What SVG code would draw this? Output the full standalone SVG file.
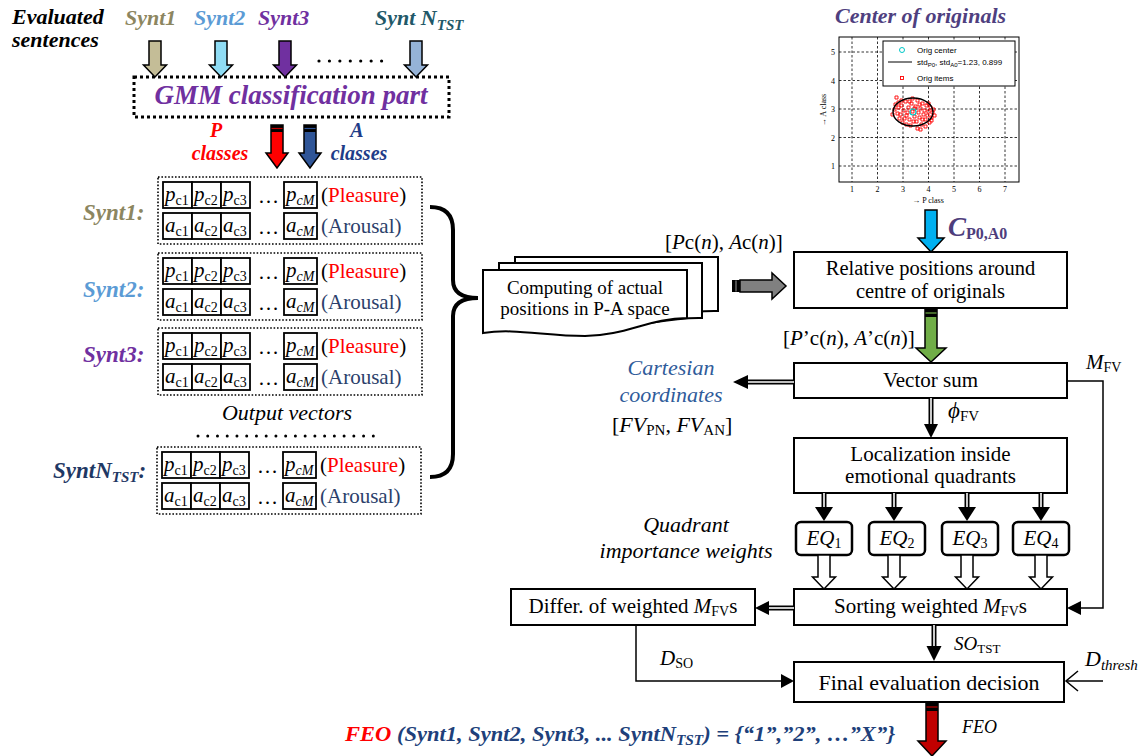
<svg xmlns="http://www.w3.org/2000/svg" width="1145" height="756" viewBox="0 0 1145 756">
<defs>
<style>
text{font-family:"Liberation Serif","Times New Roman",serif;}
.bi{font-weight:bold;font-style:italic;}
.it{font-style:italic;}
.up{font-style:normal;}
.box{fill:#fff;stroke:#000;stroke-width:2;}
.eq{fill:#fff;stroke:#000;stroke-width:2.5;}
.cell{fill:#fff;stroke:#000;stroke-width:1.8;}
.grp{fill:none;stroke:#000;stroke-width:1.6;stroke-dasharray:1.6 1.8;}
.ln{fill:none;stroke:#000;stroke-width:1.5;}
.dbl{stroke:#000;stroke-width:5;}
.dbw{stroke:#fff;stroke-width:1.6;}
.blk{stroke:#000;stroke-width:1.5;}
.grid{stroke:#000;stroke-width:0.8;stroke-dasharray:2.5 2;}
.sm{font-family:"Liberation Sans",Arial,sans-serif;font-size:8px;}
.pt{fill:none;stroke:#f00;stroke-width:0.9;}
.doc{fill:#fff;stroke:#000;stroke-width:2;}
</style>
</defs>
<rect width="1145" height="756" fill="#fff"/>

<g id="header">
<text x="12" y="24" class="bi" font-size="22">Evaluated</text>
<text x="12" y="47" class="bi" font-size="22">sentences</text>
</g>

<g id="inputs" class="bi" font-size="22">
<text x="125" y="25" fill="#8c8660">Synt1</text>
<text x="194" y="25" fill="#5b9bd5">Synt2</text>
<text x="258" y="25" fill="#7030a0">Synt3</text>
<text x="375" y="25" fill="#215868">Synt N<tspan font-size="15" dy="5">TST</tspan></text>
</g>

<g id="gmm">
<rect x="134" y="77" width="315" height="40" fill="none" stroke="#000" stroke-width="3" stroke-dasharray="3 3"/>
<text x="291" y="104" class="bi" font-size="27" fill="#7030a0" text-anchor="middle">GMM classification part</text>
</g>

<g id="pa-labels" class="bi" font-size="20" text-anchor="middle">
<text x="216" y="137" fill="#f00">P</text>
<text x="220" y="160" fill="#f00">classes</text>
<text x="357" y="137" fill="#1f3c88">A</text>
<text x="359" y="160" fill="#1f3c88">classes</text>
</g>

<g id="vec1">
<rect class="grp" x="158" y="177" width="264" height="67"/>
<rect class="cell" x="163" y="182" width="29" height="26"/><rect class="cell" x="192" y="182" width="29" height="26"/><rect class="cell" x="221" y="182" width="29" height="26"/><rect class="cell" x="284" y="182" width="33" height="26"/>
<rect class="cell" x="163" y="213" width="29" height="26"/><rect class="cell" x="192" y="213" width="29" height="26"/><rect class="cell" x="221" y="213" width="29" height="26"/><rect class="cell" x="284" y="213" width="33" height="26"/>
<g class="it" font-size="21">
<text x="165" y="201">p<tspan class="up" font-size="14" dy="4">c1</tspan></text>
<text x="194" y="201">p<tspan class="up" font-size="14" dy="4">c2</tspan></text>
<text x="223" y="201">p<tspan class="up" font-size="14" dy="4">c3</tspan></text>
<text x="286" y="201">p<tspan font-size="14" dy="4">cM</tspan></text>
<text x="165" y="232">a<tspan class="up" font-size="14" dy="4">c1</tspan></text>
<text x="194" y="232">a<tspan class="up" font-size="14" dy="4">c2</tspan></text>
<text x="223" y="232">a<tspan class="up" font-size="14" dy="4">c3</tspan></text>
<text x="286" y="232">a<tspan font-size="14" dy="4">cM</tspan></text>
</g>
<text x="258" y="203" font-size="21">…</text>
<text x="258" y="234" font-size="21">…</text>
<text x="321" y="202" font-size="21">(<tspan fill="#f00">Pleasure</tspan>)</text>
<text x="321" y="233" font-size="21" fill="#2b3f6b">(Arousal)</text>
</g>

<g id="vec2" transform="translate(0,76)">
<rect class="grp" x="158" y="177" width="264" height="67"/>
<rect class="cell" x="163" y="182" width="29" height="26"/><rect class="cell" x="192" y="182" width="29" height="26"/><rect class="cell" x="221" y="182" width="29" height="26"/><rect class="cell" x="284" y="182" width="33" height="26"/>
<rect class="cell" x="163" y="213" width="29" height="26"/><rect class="cell" x="192" y="213" width="29" height="26"/><rect class="cell" x="221" y="213" width="29" height="26"/><rect class="cell" x="284" y="213" width="33" height="26"/>
<g class="it" font-size="21">
<text x="165" y="201">p<tspan class="up" font-size="14" dy="4">c1</tspan></text>
<text x="194" y="201">p<tspan class="up" font-size="14" dy="4">c2</tspan></text>
<text x="223" y="201">p<tspan class="up" font-size="14" dy="4">c3</tspan></text>
<text x="286" y="201">p<tspan font-size="14" dy="4">cM</tspan></text>
<text x="165" y="232">a<tspan class="up" font-size="14" dy="4">c1</tspan></text>
<text x="194" y="232">a<tspan class="up" font-size="14" dy="4">c2</tspan></text>
<text x="223" y="232">a<tspan class="up" font-size="14" dy="4">c3</tspan></text>
<text x="286" y="232">a<tspan font-size="14" dy="4">cM</tspan></text>
</g>
<text x="258" y="203" font-size="21">…</text>
<text x="258" y="234" font-size="21">…</text>
<text x="321" y="202" font-size="21">(<tspan fill="#f00">Pleasure</tspan>)</text>
<text x="321" y="233" font-size="21" fill="#2b3f6b">(Arousal)</text>
</g>

<g id="vec3" transform="translate(0,151)">
<rect class="grp" x="158" y="177" width="264" height="67"/>
<rect class="cell" x="163" y="182" width="29" height="26"/><rect class="cell" x="192" y="182" width="29" height="26"/><rect class="cell" x="221" y="182" width="29" height="26"/><rect class="cell" x="284" y="182" width="33" height="26"/>
<rect class="cell" x="163" y="213" width="29" height="26"/><rect class="cell" x="192" y="213" width="29" height="26"/><rect class="cell" x="221" y="213" width="29" height="26"/><rect class="cell" x="284" y="213" width="33" height="26"/>
<g class="it" font-size="21">
<text x="165" y="201">p<tspan class="up" font-size="14" dy="4">c1</tspan></text>
<text x="194" y="201">p<tspan class="up" font-size="14" dy="4">c2</tspan></text>
<text x="223" y="201">p<tspan class="up" font-size="14" dy="4">c3</tspan></text>
<text x="286" y="201">p<tspan font-size="14" dy="4">cM</tspan></text>
<text x="165" y="232">a<tspan class="up" font-size="14" dy="4">c1</tspan></text>
<text x="194" y="232">a<tspan class="up" font-size="14" dy="4">c2</tspan></text>
<text x="223" y="232">a<tspan class="up" font-size="14" dy="4">c3</tspan></text>
<text x="286" y="232">a<tspan font-size="14" dy="4">cM</tspan></text>
</g>
<text x="258" y="203" font-size="21">…</text>
<text x="258" y="234" font-size="21">…</text>
<text x="321" y="202" font-size="21">(<tspan fill="#f00">Pleasure</tspan>)</text>
<text x="321" y="233" font-size="21" fill="#2b3f6b">(Arousal)</text>
</g>

<g id="vec4" transform="translate(-1,270)">
<rect class="grp" x="158" y="177" width="264" height="67"/>
<rect class="cell" x="163" y="182" width="29" height="26"/><rect class="cell" x="192" y="182" width="29" height="26"/><rect class="cell" x="221" y="182" width="29" height="26"/><rect class="cell" x="284" y="182" width="33" height="26"/>
<rect class="cell" x="163" y="213" width="29" height="26"/><rect class="cell" x="192" y="213" width="29" height="26"/><rect class="cell" x="221" y="213" width="29" height="26"/><rect class="cell" x="284" y="213" width="33" height="26"/>
<g class="it" font-size="21">
<text x="165" y="201">p<tspan class="up" font-size="14" dy="4">c1</tspan></text>
<text x="194" y="201">p<tspan class="up" font-size="14" dy="4">c2</tspan></text>
<text x="223" y="201">p<tspan class="up" font-size="14" dy="4">c3</tspan></text>
<text x="286" y="201">p<tspan font-size="14" dy="4">cM</tspan></text>
<text x="165" y="232">a<tspan class="up" font-size="14" dy="4">c1</tspan></text>
<text x="194" y="232">a<tspan class="up" font-size="14" dy="4">c2</tspan></text>
<text x="223" y="232">a<tspan class="up" font-size="14" dy="4">c3</tspan></text>
<text x="286" y="232">a<tspan font-size="14" dy="4">cM</tspan></text>
</g>
<text x="258" y="203" font-size="21">…</text>
<text x="258" y="234" font-size="21">…</text>
<text x="321" y="202" font-size="21">(<tspan fill="#f00">Pleasure</tspan>)</text>
<text x="321" y="233" font-size="21" fill="#2b3f6b">(Arousal)</text>
</g>

<g id="vec-labels" class="bi" font-size="23">
<text x="83" y="220" fill="#8c8660">Synt1:</text>
<text x="83" y="297" fill="#5b9bd5">Synt2:</text>
<text x="83" y="362" fill="#7030a0">Synt3:</text>
<text x="53" y="478" fill="#1f3864">SyntN<tspan font-size="15" dy="4">TST</tspan><tspan dy="-4">:</tspan></text>
</g>

<g id="output-vectors">
<text x="287" y="420" class="it" font-size="22" text-anchor="middle">Output vectors</text>
<line x1="198" y1="436" x2="383" y2="436" stroke="#000" stroke-width="3" stroke-linecap="round" stroke-dasharray="0 9.74"/>
</g>

<g id="computing">
<path class="doc" d="M515,257 H718 V311 C680,310 660,320 620,320 C585,320 545,314 515,318 Z"/>
<path class="doc" d="M499,263 H702 V318 C665,317 640,328 600,328 C565,328 530,321 499,325 Z"/>
<path class="doc" d="M483,270 H687 V318 C650,318 625,336 585,336 C545,336 515,328 483,333 Z"/>
<text x="585" y="294" font-size="19" text-anchor="middle">Computing of actual</text>
<text x="585" y="315" font-size="19" text-anchor="middle">positions in P-A space</text>
</g>

<g id="plot">
<text x="835" y="23" class="bi" font-size="22" fill="#4f3f7f">Center of originals</text>
<rect x="839" y="37" width="180" height="145" fill="#fff" stroke="#000" stroke-width="1"/>
<g class="grid">
<line x1="852" y1="37" x2="852" y2="182"/><line x1="877.5" y1="37" x2="877.5" y2="182"/><line x1="903" y1="37" x2="903" y2="182"/><line x1="928.5" y1="37" x2="928.5" y2="182"/><line x1="954" y1="37" x2="954" y2="182"/><line x1="979.5" y1="37" x2="979.5" y2="182"/><line x1="1005" y1="37" x2="1005" y2="182"/>
<line x1="839" y1="52" x2="1019" y2="52"/><line x1="839" y1="80.5" x2="1019" y2="80.5"/><line x1="839" y1="109" x2="1019" y2="109"/><line x1="839" y1="137.5" x2="1019" y2="137.5"/><line x1="839" y1="166" x2="1019" y2="166"/>
</g>
<path class="pt" d="M895,96h3v3h-3zM897,101h3v3h-3zM893,108h3v3h-3zM896,112h3v3h-3zM898,117h3v3h-3zM900,104h3v3h-3zM902,109h3v3h-3zM901,121h3v3h-3zM904,100h3v3h-3zM905,114h3v3h-3zM907,106h3v3h-3zM908,118h3v3h-3zM909,124h3v3h-3zM910,102h3v3h-3zM911,110h3v3h-3zM913,115h3v3h-3zM914,105h3v3h-3zM915,120h3v3h-3zM916,99h3v3h-3zM917,111h3v3h-3zM918,116h3v3h-3zM919,107h3v3h-3zM920,123h3v3h-3zM921,102h3v3h-3zM922,113h3v3h-3zM923,109h3v3h-3zM924,118h3v3h-3zM925,104h3v3h-3zM926,114h3v3h-3zM927,110h3v3h-3zM928,121h3v3h-3zM929,106h3v3h-3zM930,116h3v3h-3zM931,111h3v3h-3zM932,108h3v3h-3zM899,113h3v3h-3zM903,117h3v3h-3zM906,111h3v3h-3zM912,120h3v3h-3zM918,103h3v3h-3zM924,125h3v3h-3zM916,127h3v3h-3zM900,99h3v3h-3zM894,103h3v3h-3zM908,100h3v3h-3zM927,102h3v3h-3zM930,119h3v3h-3zM913,107h3v3h-3zM921,118h3v3h-3zM905,123h3v3h-3zM897,106h3v3h-3zM891,113h3v3h-3zM933,114h3v3h-3zM911,97h3v3h-3zM919,128h3v3h-3z"/>
<ellipse cx="913" cy="112" rx="20" ry="14" fill="none" stroke="#000" stroke-width="1.4"/>
<circle cx="913" cy="112" r="3" fill="none" stroke="#00c8c8" stroke-width="1.2"/>
<rect x="883" y="41" width="132" height="45" fill="#fff" stroke="#000" stroke-width="1"/>
<circle cx="902" cy="50" r="2.5" fill="none" stroke="#00c8c8" stroke-width="1"/>
<text x="917" y="53" class="sm">Orig center</text>
<line x1="888" y1="62" x2="912" y2="62" stroke="#000" stroke-width="1"/>
<text x="917" y="65" class="sm">std<tspan font-size="6" dy="2">P0</tspan><tspan dy="-2">, std</tspan><tspan font-size="6" dy="2">A0</tspan><tspan dy="-2">=1.23, 0.899</tspan></text>
<rect x="900.5" y="76.5" width="3" height="3" class="pt"/>
<text x="917" y="81" class="sm">Orig items</text>
<g class="sm" text-anchor="middle">
<text x="852" y="192">1</text><text x="877.5" y="192">2</text><text x="903" y="192">3</text><text x="928.5" y="192">4</text><text x="954" y="192">5</text><text x="979.5" y="192">6</text><text x="1005" y="192">7</text>
<text x="928" y="203">→ P class</text>
<text transform="translate(826,110) rotate(-90)">→ A class</text>
</g>
<g class="sm" text-anchor="end">
<text x="835" y="55">5</text><text x="835" y="83.5">4</text><text x="835" y="112">3</text><text x="835" y="140.5">2</text><text x="835" y="169">1</text>
</g>
</g>

<g id="relative">
<rect class="box" x="794" y="252" width="273" height="56"/>
<text x="930.5" y="275" font-size="20.5" text-anchor="middle">Relative positions around</text>
<text x="930.5" y="298" font-size="20.5" text-anchor="middle">centre of originals</text>
</g>

<g id="vectorsum">
<rect class="box" x="794" y="363" width="273" height="35"/>
<text x="930.5" y="387" font-size="21" text-anchor="middle">Vector sum</text>
</g>

<g id="cartesian">
<text x="671" y="375" class="it" font-size="22" fill="#2f5b9a" text-anchor="middle">Cartesian</text>
<text x="671" y="402" class="it" font-size="22" fill="#2f5b9a" text-anchor="middle">coordinates</text>
<text x="612" y="432" font-size="22">[<tspan class="it">FV</tspan><tspan font-size="15" dy="3">PN</tspan><tspan dy="-3">, </tspan><tspan class="it">FV</tspan><tspan font-size="15" dy="3">AN</tspan><tspan dy="-3">]</tspan></text>
</g>

<g id="localization">
<rect class="box" x="794" y="438" width="273" height="55"/>
<text x="930.5" y="461" font-size="21" text-anchor="middle">Localization inside</text>
<text x="930.5" y="483" font-size="21" text-anchor="middle">emotional quadrants</text>
</g>

<g id="eq1"><rect class="eq" x="796" y="522" width="56" height="33" rx="5"/><text x="824" y="545" class="it" font-size="21" text-anchor="middle">EQ<tspan class="up" font-size="14" dy="3">1</tspan></text></g>
<g id="eq2"><rect class="eq" x="869" y="522" width="56" height="33" rx="5"/><text x="897" y="545" class="it" font-size="21" text-anchor="middle">EQ<tspan class="up" font-size="14" dy="3">2</tspan></text></g>
<g id="eq3"><rect class="eq" x="942" y="522" width="56" height="33" rx="5"/><text x="970" y="545" class="it" font-size="21" text-anchor="middle">EQ<tspan class="up" font-size="14" dy="3">3</tspan></text></g>
<g id="eq4"><rect class="eq" x="1013" y="522" width="56" height="33" rx="5"/><text x="1041" y="545" class="it" font-size="21" text-anchor="middle">EQ<tspan class="up" font-size="14" dy="3">4</tspan></text></g>

<g id="quadrant-label">
<text x="686" y="532" class="it" font-size="22" text-anchor="middle">Quadrant</text>
<text x="686" y="558" class="it" font-size="22" text-anchor="middle">importance weights</text>
</g>

<g id="sorting">
<rect class="box" x="794" y="589" width="273" height="36"/>
<text x="930.5" y="613" font-size="21" text-anchor="middle">Sorting weighted <tspan class="it">M</tspan><tspan font-size="14" dy="3">FV</tspan><tspan dy="-3">s</tspan></text>
</g>

<g id="differ">
<rect class="box" x="511" y="589" width="244" height="36"/>
<text x="633" y="613" font-size="21" text-anchor="middle">Differ. of weighted <tspan class="it">M</tspan><tspan font-size="14" dy="3">FV</tspan><tspan dy="-3">s</tspan></text>
</g>

<g id="final">
<rect class="box" x="794" y="662" width="270" height="40"/>
<text x="929" y="690" font-size="22" text-anchor="middle">Final evaluation decision</text>
</g>

<g id="result">
<text x="345" y="741" class="bi" font-size="22" fill="#203f7a" textLength="550" lengthAdjust="spacingAndGlyphs"><tspan fill="#f00">FEO</tspan> (Synt1, Synt2, Synt3, ... SyntN<tspan font-size="15" dy="4">TST</tspan><tspan dy="-4">) = {“1”,”2”, …”X”}</tspan></text>
</g>

<g id="connectors">
<polygon class="blk" fill="#c4bd97" points="149,41 161,41 161,65 166.5,65 155,77 143.5,65 149,65"/>
<polygon class="blk" fill="#8fdcf4" points="215,41 227,41 227,65 232.5,65 221,77 209.5,65 215,65"/>
<polygon class="blk" fill="#7030a0" points="279,41 291,41 291,65 296.5,65 285,77 273.5,65 279,65"/>
<polygon class="blk" fill="#95b3d7" points="410,41 422,41 422,65 427.5,65 416,77 404.5,65 410,65"/>
<line x1="319" y1="61" x2="392" y2="61" stroke="#000" stroke-width="3.2" stroke-linecap="round" stroke-dasharray="0 10.43"/>
<polygon class="blk" fill="#f00" points="271,125 283,125 283,153 288,153 277,168 266,153 271,153"/>
<rect x="271" y="125" width="12" height="7" fill="#000"/><line x1="271.5" y1="128.5" x2="282.5" y2="128.5" stroke="#c00000" stroke-width="1.2"/>
<polygon class="blk" fill="#2f5597" points="304,125 316,125 316,153 321,153 310,168 299,153 304,153"/>
<rect x="304" y="125" width="12" height="7" fill="#000"/><line x1="304.5" y1="128.5" x2="315.5" y2="128.5" stroke="#2f5597" stroke-width="1.2"/>
<path d="M430,207 Q453,207 453,230 V280 Q453,298 478,298 Q453,298 453,316 V454 Q453,477 430,477" fill="none" stroke="#000" stroke-width="4"/>
<polygon class="blk" fill="#808080" points="740,280 772,280 772,273 786,286 772,299 772,292 740,292"/>
<rect x="732" y="280" width="8" height="12" fill="#000"/><line x1="736" y1="280.5" x2="736" y2="291.5" stroke="#808080" stroke-width="1.2"/>
<text x="665" y="249" font-size="21">[<tspan class="it">P</tspan>c(<tspan class="it">n</tspan>), <tspan class="it">A</tspan>c(<tspan class="it">n</tspan>)]</text>
<polygon class="blk" fill="#00b0f0" points="925,210 937,210 937,238 944,238 931,252 918,238 925,238"/>
<text x="948" y="236" class="bi" font-size="27" fill="#4e3d7c">C<tspan font-style="normal" font-size="16" dy="3">P0,A0</tspan></text>
<polygon class="blk" fill="#70ad47" points="925,309 937,309 937,348 946,348 931,362 916,348 925,348"/>
<rect x="925" y="309" width="12" height="8" fill="#000"/><line x1="925.5" y1="313" x2="936.5" y2="313" stroke="#70ad47" stroke-width="1.2"/>
<text x="783" y="345" font-size="21">[<tspan class="it">P</tspan>’c(<tspan class="it">n</tspan>), <tspan class="it">A</tspan>’c(<tspan class="it">n</tspan>)]</text>
<line class="dbl" x1="794" y1="382" x2="747" y2="382"/><line class="dbw" x1="794" y1="382" x2="747" y2="382"/>
<polygon points="748,375 748,389 733,382" fill="#000"/>
<line class="dbl" x1="931" y1="398" x2="931" y2="425"/><line class="dbw" x1="931" y1="398" x2="931" y2="425"/>
<polygon points="924,424 938,424 931,438" fill="#000"/>
<text x="948" y="418" class="it" font-size="23">ϕ<tspan class="up" font-size="15" dy="3">FV</tspan></text>
<polyline class="ln" points="1067,381 1103,381 1103,608 1081,608"/>
<polygon points="1081,601 1081,615 1067,608" fill="#000"/>
<text x="1086" y="369" class="it" font-size="21">M<tspan class="up" font-size="14" dy="3">FV</tspan></text>
<line class="dbl" x1="824" y1="493" x2="824" y2="508"/><line class="dbw" x1="824" y1="493" x2="824" y2="508"/><polygon points="815,507 833,507 824,521" fill="#000"/>
<line class="dbl" x1="894" y1="493" x2="894" y2="508"/><line class="dbw" x1="894" y1="493" x2="894" y2="508"/><polygon points="885,507 903,507 894,521" fill="#000"/>
<line class="dbl" x1="967" y1="493" x2="967" y2="508"/><line class="dbw" x1="967" y1="493" x2="967" y2="508"/><polygon points="958,507 976,507 967,521" fill="#000"/>
<line class="dbl" x1="1041" y1="493" x2="1041" y2="508"/><line class="dbw" x1="1041" y1="493" x2="1041" y2="508"/><polygon points="1032,507 1050,507 1041,521" fill="#000"/>
<polygon class="blk" fill="#fff" points="818,555 830,555 830,577 835.5,577 824,589 812.5,577 818,577"/>
<polygon class="blk" fill="#fff" points="888,555 900,555 900,577 905.5,577 894,589 882.5,577 888,577"/>
<polygon class="blk" fill="#fff" points="961,555 973,555 973,577 978.5,577 967,589 955.5,577 961,577"/>
<polygon class="blk" fill="#fff" points="1035,555 1047,555 1047,577 1052.5,577 1041,589 1029.5,577 1035,577"/>
<line class="dbl" x1="794" y1="608" x2="768" y2="608"/><line class="dbw" x1="794" y1="608" x2="768" y2="608"/>
<polygon points="769,601 769,615 755,608" fill="#000"/>
<line class="dbl" x1="934" y1="625" x2="934" y2="647"/><line class="dbw" x1="934" y1="625" x2="934" y2="647"/>
<polygon points="926.5,646 941.5,646 934,661" fill="#000"/>
<text x="954" y="650" class="it" font-size="19">SO<tspan class="up" font-size="13" dy="3">TST</tspan></text>
<polyline class="ln" points="636,625 636,681 781,681"/>
<polygon points="781,674 781,688 794,681" fill="#000"/>
<text x="660" y="665" class="it" font-size="21">D<tspan class="up" font-size="14" dy="3">SO</tspan></text>
<line class="ln" x1="1103" y1="681" x2="1066" y2="681"/>
<polyline class="ln" points="1078,671 1066,681 1078,691"/>
<text x="1085" y="666" class="it" font-size="22">D<tspan font-size="15" dy="4">thresh</tspan></text>
<polygon class="blk" fill="#c00000" points="926,703 938,703 938,741 946,741 932,756 918,741 926,741"/>
<rect x="926" y="703" width="12" height="8" fill="#000"/><line x1="926.5" y1="707" x2="937.5" y2="707" stroke="#c00000" stroke-width="1.2"/>
<text x="962" y="733" class="it" font-size="18">FEO</text>
</g>
</svg>
